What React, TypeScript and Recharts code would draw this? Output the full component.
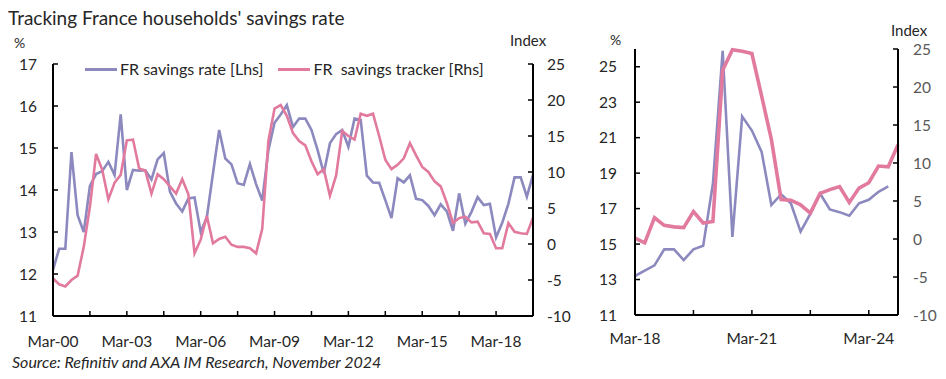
import React from 'react';
import { LineChart, Line, XAxis, YAxis } from 'recharts';

const FONT = 'Lato, "Noto Sans", sans-serif';
const PURPLE = '#8C89BF';
const PINK = '#E17A9E';
const INK = '#262626';

const quarterNames = ['Mar', 'Jun', 'Sep', 'Dec'];
const leftYears = [2000, 2001, 2002, 2003, 2004, 2005, 2006, 2007, 2008, 2009, 2010, 2011, 2012, 2013, 2014, 2015, 2016, 2017, 2018, 2019];
const rightYears = [2018, 2019, 2020, 2021, 2022, 2023, 2024];

const buildQuarters = (years: number[]) =>
  years.flatMap((y) => quarterNames.map((q) => `${q}-${String(y % 100).padStart(2, '0')}`));

// Q1 2000 .. Q3 2019
const leftCategories = buildQuarters(leftYears).slice(0, 79);
// Q1 2018 .. Q4 2024
const rightCategories = buildQuarters(rightYears);

const leftTickLabels = ['Mar-00', 'Mar-03', 'Mar-06', 'Mar-09', 'Mar-12', 'Mar-15', 'Mar-18'];
const rightTickLabels = ['Mar-18', 'Mar-21', 'Mar-24'];

// FR savings rate [Lhs], %
const leftSavingsRate = [
  12.1, 12.6, 12.6, 14.9, 13.4, 13.0, 14.1, 14.38, 14.45, 14.67,
  14.36, 15.8, 14.0, 14.48, 14.46, 14.47, 14.25, 14.73, 14.88, 13.96,
  13.68, 13.49, 13.8, 13.82, 13.0, 13.35, 14.4, 15.43, 14.75, 14.61,
  14.16, 14.12, 14.62, 14.14, 13.75, 14.95, 15.6, 15.8, 16.02, 15.5,
  15.7, 15.7, 15.43, 14.95, 14.4, 15.11, 15.33, 15.43, 15.03, 15.7,
  15.67, 14.34, 14.18, 14.17, 13.76, 13.33, 14.28, 14.18, 14.35, 13.79,
  13.76, 13.62, 13.4, 13.66, 13.49, 13.03, 13.92, 13.2, 13.48, 13.83,
  13.64, 13.67, 12.87, 13.22, 13.67, 14.3, 14.3, 13.84, 14.36,
];

// FR savings tracker [Rhs], index
const leftTracker = [
  -4.8, -5.6, -5.9, -5.0, -4.4, -0.4, 5.2, 12.5, 10.3, 6.2,
  8.5, 9.6, 14.4, 14.5, 10.5, 10.2, 7.0, 9.7, 9.0, 8.0,
  7.0, 9.0, 6.9, -1.3, 0.6, 3.9, 0.1, 0.7, 1.0, -0.1,
  -0.4, -0.4, -0.6, -1.3, 2.1, 14.3, 18.8, 19.3, 17.8, 15.4,
  14.3, 13.7, 11.5, 9.7, 10.4, 6.7, 9.5, 15.7, 15.0, 14.5,
  18.1, 17.8, 18.1, 15.0, 11.7, 10.4, 11.0, 11.9, 14.0, 12.3,
  10.7, 10.0, 8.7, 8.0, 5.7, 2.9, 3.6, 3.8, 3.0, 3.1,
  1.5, 1.4, -0.6, -0.6, 2.9, 1.7, 1.5, 1.4, 3.6,
];

const rightSavingsRate: (number | null)[] = [
  13.2, 13.5, 13.8, 14.7, 14.7, 14.1, 14.7, 14.9, 18.4, 25.9,
  15.4, 22.2, 21.4, 20.2, 17.2, 17.8, 17.3, 15.7, 16.7, 17.85,
  16.95, 16.8, 16.6, 17.3, 17.5, 17.95, 18.25, null,
];

const rightTracker = [
  0.1, -0.5, 2.8, 1.8, 1.6, 1.5, 3.6, 2.1, 2.3, 22.2,
  24.9, 24.7, 24.4, 18.8, 13.1, 5.2, 5.1, 4.5, 3.4, 6.0,
  6.5, 6.9, 4.8, 6.7, 7.4, 9.6, 9.5, 12.4,
];

const leftYTicks = [11, 12, 13, 14, 15, 16, 17];
const leftRTicks = [-10, -5, 0, 5, 10, 15, 20, 25];
const rightYTicks = [11, 13, 15, 17, 19, 21, 23, 25];
const rightRTicks = [-10, -5, 0, 5, 10, 15, 20, 25];

const leftXTicks = leftCategories.map((_, i) => i).filter((i) => i % 6 === 0);
const rightXTicks = rightCategories.map((_, i) => i).filter((i) => i % 6 === 0);

const axisLine = { stroke: '#000', strokeWidth: 2 };
const tickLine = { stroke: '#000', strokeWidth: 1.5 };
const tickFont = { fontFamily: FONT, fontSize: 15.5, fill: INK };
const grayTickFont = { fontFamily: FONT, fontSize: 15.5, fill: '#595959' };

function LeftChart() {
  const data = leftCategories.map((q, i) => ({ i, q, rate: leftSavingsRate[i], tracker: leftTracker[i] }));
  const fmt = (v: number) => (leftTickLabels.includes(leftCategories[v]) && v % 12 === 0 ? leftCategories[v] : '');
  return (
    <LineChart width={580} height={379} data={data} margin={{ top: 64, right: 7, bottom: 33, left: 13 }}>
      <XAxis
        type="number"
        dataKey="i"
        domain={[0, leftCategories.length - 1]}
        ticks={leftXTicks}
        interval={0}
        tickFormatter={fmt}
        axisLine={axisLine}
        tickLine={tickLine}
        tickSize={-5}
        tickMargin={25}
        height={30}
        tick={tickFont}
      />
      <YAxis
        yAxisId="left"
        domain={[11, 17]}
        ticks={leftYTicks}
        interval={0}
        axisLine={axisLine}
        tickLine={tickLine}
        tickSize={-5}
        tickMargin={21}
        width={40}
        tick={tickFont}
      />
      <YAxis
        yAxisId="right"
        orientation="right"
        domain={[-10, 25]}
        ticks={leftRTicks}
        interval={0}
        axisLine={axisLine}
        tickLine={tickLine}
        tickSize={-5}
        tickMargin={19}
        width={40}
        tick={tickFont}
      />
      <Line yAxisId="left" dataKey="rate" stroke={PURPLE} strokeWidth={2.6} dot={false} isAnimationActive={false} />
      <Line yAxisId="right" dataKey="tracker" stroke={PINK} strokeWidth={2.6} dot={false} isAnimationActive={false} />
    </LineChart>
  );
}

function RightChart() {
  const data = rightCategories.map((q, i) => ({ i, q, rate: rightSavingsRate[i], tracker: rightTracker[i] }));
  const fmt = (v: number) => (rightTickLabels.includes(rightCategories[v]) && v % 12 === 0 ? rightCategories[v] : '');
  return (
    <LineChart width={356} height={379} data={data} margin={{ top: 49, right: 8, bottom: 34, left: 5 }}>
      <XAxis
        type="number"
        dataKey="i"
        domain={[0, rightCategories.length - 1]}
        ticks={rightXTicks}
        interval={0}
        tickFormatter={fmt}
        axisLine={axisLine}
        tickLine={tickLine}
        tickSize={-5}
        tickMargin={23}
        height={30}
        tick={tickFont}
      />
      <YAxis
        yAxisId="left"
        domain={[11, 26]}
        ticks={rightYTicks}
        interval={0}
        axisLine={axisLine}
        tickLine={tickLine}
        tickSize={-5}
        tickMargin={23}
        width={40}
        tick={tickFont}
      />
      <YAxis
        yAxisId="right"
        orientation="right"
        domain={[-10, 25]}
        ticks={rightRTicks}
        interval={0}
        axisLine={axisLine}
        tickLine={tickLine}
        tickSize={-5}
        tickMargin={20}
        width={40}
        tick={grayTickFont}
      />
      <Line yAxisId="left" dataKey="rate" stroke={PURPLE} strokeWidth={2.6} dot={false} isAnimationActive={false} />
      <Line yAxisId="right" dataKey="tracker" stroke={PINK} strokeWidth={3.6} dot={false} isAnimationActive={false} />
    </LineChart>
  );
}

const txt = (extra: React.CSSProperties): React.CSSProperties => ({
  position: 'absolute',
  fontFamily: FONT,
  color: INK,
  whiteSpace: 'nowrap',
  lineHeight: 1,
  ...extra,
});

export default function App() {
  return (
    <div style={{ position: 'absolute', left: 0, top: 0, width: 946, height: 379, background: '#fff', overflow: 'hidden' }}>
      <div style={{ position: 'absolute', left: 0, top: 0 }}>
        <LeftChart />
      </div>
      <div style={{ position: 'absolute', left: 590, top: 0 }}>
        <RightChart />
      </div>
      <div style={txt({ left: 8, top: 8, fontSize: 19 })}>Tracking France households' savings rate</div>
      <div style={txt({ left: 14, top: 36, fontSize: 14 })}>%</div>
      <div style={txt({ left: 510, top: 33, fontSize: 15 })}>Index</div>
      <div style={txt({ left: 610, top: 33, fontSize: 14 })}>%</div>
      <div style={txt({ left: 891, top: 23, fontSize: 15 })}>Index</div>
      <div style={txt({ left: 85, top: 61, fontSize: 16, display: 'flex', alignItems: 'center' })}>
        <span style={{ display: 'inline-block', width: 32, height: 3, background: PURPLE, marginRight: 3 }} />
        <span>FR savings rate [Lhs]</span>
        <span style={{ display: 'inline-block', width: 32, height: 3, background: PINK, marginLeft: 15, marginRight: 3 }} />
        <span style={{ whiteSpace: 'pre' }}>FR  savings tracker [Rhs]</span>
      </div>
      <div style={txt({ left: 12, top: 354, fontSize: 16, fontStyle: 'italic' })}>
        Source: Refinitiv and AXA IM Research, November 2024
      </div>
    </div>
  );
}
